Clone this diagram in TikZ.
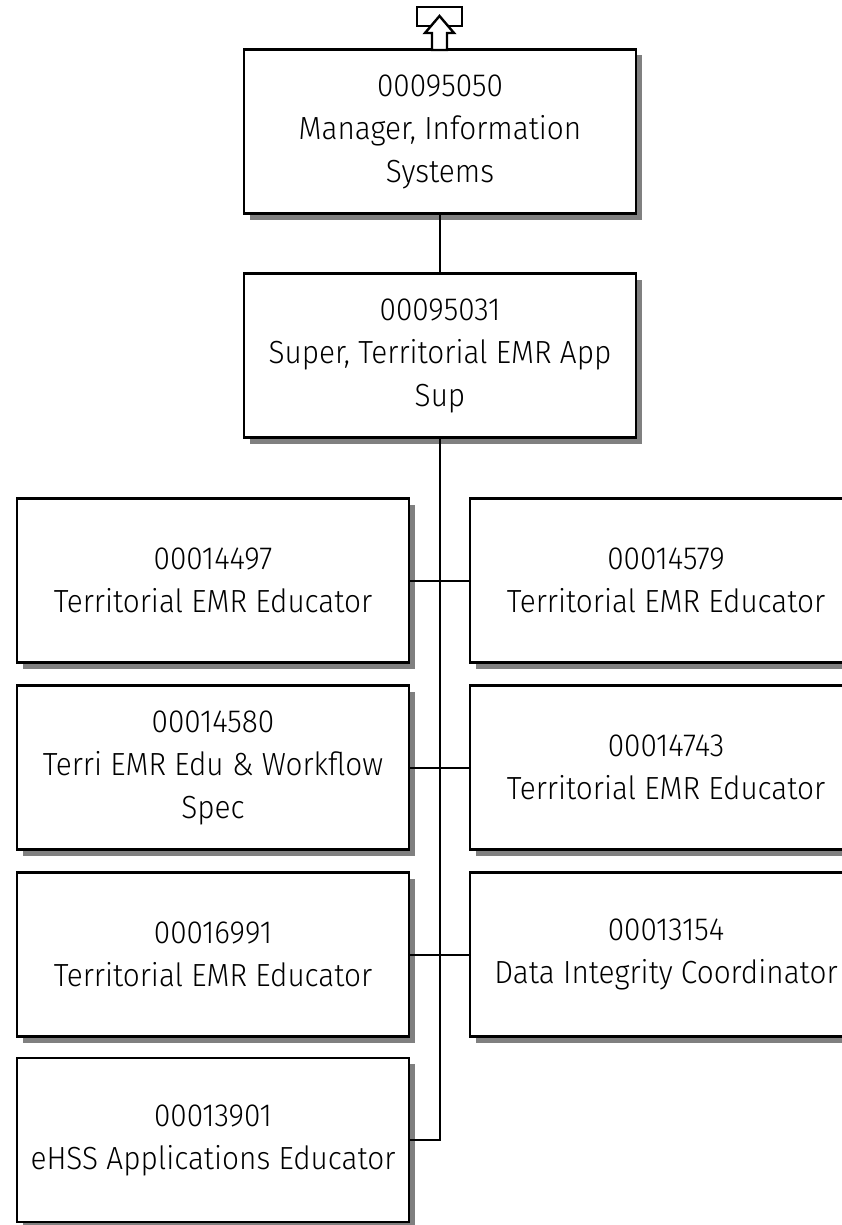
\documentclass[tikz,border=0pt]{standalone}
\usepackage{fontspec}
\setmainfont{Fira Sans Light}[FakeStretch=0.93]
\usetikzlibrary{shadows}

\begin{document}
\begin{tikzpicture}[x=1pt,y=-1pt,line join=miter,
  post/.style={draw,line width=2.4pt,fill=white,minimum width=392pt,minimum height=164pt,
    inner sep=0pt,align=center,font=\fontsize{32}{43}\selectfont,
    drop shadow={shadow xshift=6pt,shadow yshift=-6pt,fill=black!50,opacity=1}},
  link/.style={line width=2pt}]
\useasboundingbox (0,0) rectangle (842,1225);
% upper posts
\node[post] (n95050) at (440,131.5) {00095050\\Manager, Information\\Systems};
\node[post] (n95031) at (440,355.5) {00095031\\Super, Territorial EMR App\\Sup};
% reports, left column
\node[post] (n14497) at (213,580.5) {00014497\\Territorial EMR Educator};
\node[post] (n14580) at (213,767.5) {00014580\\Terri EMR Edu \& Workflow\\Spec};
\node[post] (n16991) at (213,954.5) {00016991\\Territorial EMR Educator};
\node[post] (n13901) at (213,1140) {00013901\\eHSS Applications Educator};
% reports, right column
\node[post] (n14579) at (666,580.5) {00014579\\Territorial EMR Educator};
\node[post] (n14743) at (666,767.5) {00014743\\Territorial EMR Educator};
\node[post] (n13154) at (666,954.5) {00013154\\Data Integrity Coordinator};
% off-page marker
\draw[line width=2.4pt,fill=white] (417,7) rectangle (462,26);
\draw[line width=2.4pt,fill=white] (439.5,16) -- (454,33) -- (447,33) -- (447,50)
  -- (432,50) -- (432,33) -- (425,33) -- cycle;
% connectors
\coordinate (elbow) at (n95031.south |- n13901.east);
\draw[link] (n95050) -- (n95031);
\draw[link] (n95031.south) -- (elbow) -- (n13901.east);
\draw[link] (n14497) -- (n14579);
\draw[link] (n14580) -- (n14743);
\draw[link] (n16991) -- (n13154);
\end{tikzpicture}
\end{document}
